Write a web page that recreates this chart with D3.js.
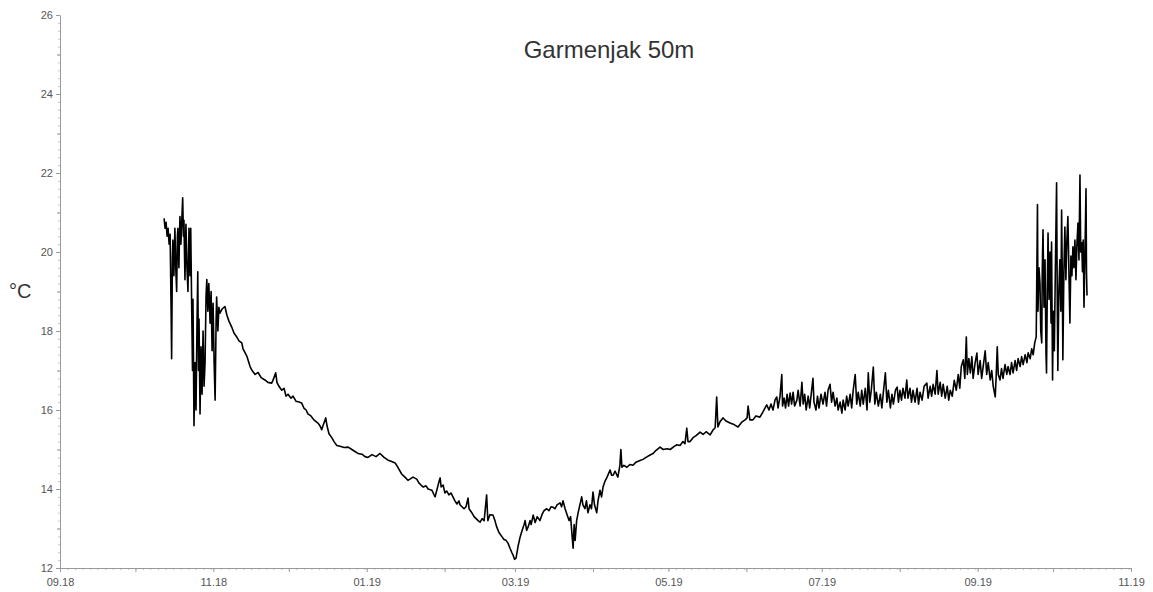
<!DOCTYPE html>
<html><head><meta charset="utf-8">
<script src="https://cdn.jsdelivr.net/npm/d3@7"></script>
<style>body{margin:0;background:#fff}svg{display:block}</style>
</head><body><svg id="c" width="1153" height="592"></svg>
<script>
const chartTitle = "Garmenjak 50m";
const yLabel = "°C";
const startDate = "2018-09-01";
const endDate = "2019-11-01";
const xMajorTicks = ["2018-09-01","2018-11-01","2019-01-01","2019-03-01","2019-05-01","2019-07-01","2019-09-01","2019-11-01"];
const xMinorTicks = ["2018-10-01","2018-12-01","2019-02-01","2019-04-01","2019-06-01","2019-08-01","2019-10-01"];
const yMajorTicks = [12,14,16,18,20,22,24,26];
const yMinorTicks = [13,15,17,19,21,23,25];

// [days since 2018-09-01, temperature °C]
const autumn2018 = [[41.4,20.85],[41.8,20.6],[42.2,20.75],[42.6,20.4],[43.0,20.6],[43.4,20.2],[43.8,20.45],[44.2,18.5],[44.4,17.3],[44.7,19.8],[44.9,20.3],[45.3,19.4],[45.7,20.6],[46.1,19.5],[46.4,19.0],[46.7,20.4],[46.9,20.6],[47.3,19.6],[47.7,20.9],[48.1,20.2],[48.5,20.9],[48.8,21.37],[49.1,20.4],[49.3,20.8],[49.7,19.3],[50.1,20.7],[50.5,19.6],[50.9,19.0],[51.3,20.6],[51.7,19.4],[52.0,20.6],[52.4,18.5],[52.7,17.0],[52.9,18.8],[53.3,15.6],[53.7,17.2],[54.1,16.0],[54.5,18.2],[54.8,19.5],[55.1,17.0],[55.3,18.3],[55.7,15.9],[56.1,17.6],[56.5,16.4],[56.9,18.0],[57.3,16.6],[57.7,17.2],[58.1,18.9],[58.4,19.3],[58.8,18.5],[59.2,19.2],[59.7,18.2],[60.1,19.0],[60.5,17.5],[60.9,18.7],[61.3,17.2],[61.7,16.25],[62.1,18.3],[62.3,18.86],[62.8,18.0],[63.2,18.6],[63.6,18.45],[64.4,18.55],[65.2,18.6],[65.6,18.62],[66.4,18.4],[67.2,18.25],[68.3,18.1]];

const winter = [[69.2,17.95],[70.3,17.85],[71.2,17.75],[72.3,17.7],[72.8,17.55],[73.6,17.45],[74.4,17.35],[75.6,17.1],[76.4,17.0],[77.6,16.9],[78.8,16.95],[80.0,16.82],[81.5,16.76],[82.7,16.7],[84.2,16.68],[84.7,16.75],[85.8,16.94],[86.3,16.7],[87.1,16.6],[88.2,16.5],[89.1,16.55],[89.9,16.35],[90.7,16.4],[91.9,16.3],[92.7,16.35],[93.9,16.22],[95.1,16.2],[96.1,16.18],[97.0,16.05],[97.9,16.0],[98.6,15.9],[99.8,15.85],[101.0,15.75],[102.6,15.67],[103.4,15.6],[104.1,15.5],[104.6,15.6],[105.7,15.8],[106.2,15.6],[107.0,15.4],[108.1,15.3],[109.0,15.2],[110.1,15.1],[111.4,15.08],[113.0,15.05],[114.6,15.06],[116.1,15.0],[117.3,14.95],[118.5,14.9],[120.1,14.88],[121.3,14.82],[122.5,14.8],[124.1,14.87],[125.7,14.82],[127.3,14.9],[128.9,14.8],[130.5,14.73],[131.7,14.7],[133.3,14.66],[134.4,14.55],[135.9,14.38],[137.2,14.3],[138.4,14.22],[139.2,14.25],[140.4,14.3],[141.9,14.25],[142.8,14.15],[143.6,14.1],[144.5,14.05],[145.6,14.08],[146.4,14.0],[147.9,13.97],[148.8,13.85],[149.2,13.8],[150.0,14.0],[150.8,14.2],[151.2,14.28],[151.6,14.05],[152.4,14.1],[153.1,13.9],[153.8,13.95],[154.7,13.85],[155.5,13.9],[156.3,13.8],[157.1,13.7],[157.9,13.62],[158.7,13.7],[159.1,13.6],[159.9,13.55],[160.7,13.5],[161.5,13.55],[162.3,13.77],[162.7,13.5],[163.8,13.4],[164.7,13.3],[165.5,13.25],[166.3,13.2],[167.1,13.16],[167.9,13.25],[168.7,13.2],[169.7,13.85],[170.1,13.3],[170.2,13.2],[171.0,13.35],[172.2,13.34],[173.0,13.2],[173.7,13.04],[174.6,12.9],[175.7,12.8],[176.6,12.72],[177.4,12.7],[178.2,12.63],[179.0,12.5],[179.8,12.38],[180.2,12.33],[180.8,12.22],[181.4,12.25]];

const spring = [[182.2,12.55],[183.0,12.78],[183.8,12.95],[184.6,13.1],[185.0,13.2],[185.6,12.95],[186.2,13.04],[187.0,13.2],[187.4,13.1],[188.2,13.34],[189.0,13.15],[189.8,13.3],[190.9,13.2],[191.7,13.35],[192.5,13.45],[193.6,13.5],[194.5,13.45],[195.3,13.55],[196.1,13.54],[196.9,13.5],[197.7,13.6],[198.9,13.65],[199.5,13.55],[200.1,13.7],[200.9,13.5],[201.7,13.35],[202.5,13.2],[203.1,13.3],[203.7,12.8],[204.1,12.5],[204.5,13.1],[204.9,12.7],[205.5,13.2],[206.1,13.4],[206.8,13.6],[207.5,13.8],[208.0,13.6],[208.8,13.5],[209.4,13.7],[210.0,13.4],[210.8,13.6],[211.4,13.5],[212.0,13.92],[212.6,13.6],[213.5,13.4],[214.0,13.7],[214.8,13.97],[215.4,13.8],[216.0,14.05],[216.8,14.2],[217.6,14.3],[218.8,14.48],[219.4,14.35],[220.0,14.35],[220.8,14.45],[221.9,14.3],[222.7,14.6],[223.1,15.0],[223.5,14.55],[224.3,14.6],[225.5,14.55],[226.7,14.62],[227.9,14.6],[229.1,14.68],[230.7,14.72],[231.9,14.75],[233.1,14.8],[234.7,14.86],[235.9,14.9],[237.1,14.98],[238.7,15.06],[239.9,15.0],[241.5,15.02],[242.7,15.0],[244.3,15.08],[245.4,15.12],[246.6,15.1],[247.8,15.2],[248.6,15.15],[249.3,15.54],[249.8,15.2],[250.6,15.2],[251.8,15.3],[253.0,15.35],[254.6,15.44],[255.8,15.38],[257.0,15.45],[258.6,15.37],[259.8,15.5],[260.6,15.55],[261.2,16.33],[261.6,15.7],[261.7,15.57],[262.5,15.7],[263.7,15.8],[264.9,15.72],[266.5,15.67],[268.1,15.63],[269.7,15.57],[271.3,15.7],[272.5,15.75],[273.3,15.8],[273.7,16.1],[274.4,15.75],[275.6,15.75],[276.8,15.85],[278.4,15.82],[279.6,15.95],[281.1,16.13],[282.0,16.0],[282.8,16.15],[283.6,16.0]];

const summer = [[284.4,16.25],[285.1,16.33],[285.6,16.05],[286.4,16.35],[287.1,16.9],[287.4,16.1],[288.0,16.3],[288.6,16.05],[289.2,16.4],[289.8,16.1],[290.4,16.43],[291.0,16.15],[291.6,16.45],[292.2,16.1],[293.1,16.25],[293.6,16.5],[294.4,16.1],[295.1,16.7],[295.6,16.15],[296.2,16.4],[296.8,16.0],[297.6,16.35],[298.2,16.05],[298.8,16.4],[299.5,16.8],[299.9,16.2],[300.7,16.0],[301.3,16.35],[301.9,16.05],[302.7,16.4],[303.5,16.15],[304.3,16.45],[304.9,16.1],[305.5,16.5],[306.3,16.65],[306.9,16.2],[307.5,16.45],[308.3,16.1],[309.0,16.3],[309.5,16.0],[310.3,16.2],[311.0,15.92],[311.5,16.25],[312.3,16.0],[312.9,16.35],[313.5,16.1],[314.3,16.4],[314.9,16.05],[315.5,16.5],[316.3,16.9],[316.9,16.15],[317.5,16.45],[318.3,16.1],[318.9,16.5],[319.5,16.15],[320.3,16.55],[321.0,16.0],[321.5,16.94],[322.1,16.2],[322.7,16.5],[323.5,17.09],[324.1,16.15],[324.7,16.45],[325.5,16.1],[326.3,16.4],[326.9,16.05],[327.5,16.45],[328.3,16.94],[328.9,16.2],[329.5,16.5],[330.3,16.05],[330.9,16.4],[331.5,16.15],[332.3,16.5],[333.0,16.58],[333.5,16.2],[334.1,16.5],[334.7,16.25],[335.3,16.55],[336.1,16.3],[336.8,16.76],[337.3,16.3],[338.1,16.55],[338.7,16.2],[339.3,16.5],[340.1,16.2],[340.9,16.55],[341.5,16.15],[342.1,16.45],[342.9,16.25],[343.7,16.6],[344.8,16.68],[345.3,16.3],[346.1,16.6],[346.7,16.35],[347.3,16.65],[348.1,16.4],[348.8,17.0],[349.3,16.4],[350.1,16.7],[350.7,16.35],[351.3,16.65],[352.1,16.3],[352.9,16.6],[353.5,16.25],[354.1,16.5],[354.9,16.35],[355.7,16.75],[356.5,16.5],[357.3,16.9],[357.9,16.55],[358.5,17.1],[359.3,17.27],[359.9,16.8],[360.5,17.85],[360.9,16.9],[361.5,17.3],[362.1,16.94],[362.7,17.35],[363.2,16.8],[364.0,17.2],[364.7,17.44],[365.2,16.9],[366.0,17.25],[366.6,16.8],[367.2,17.1],[368.0,17.5],[368.6,16.9],[369.2,17.2],[370.0,16.76],[370.6,17.0],[371.2,16.6],[372.0,16.33],[372.4,16.9],[372.8,17.6],[373.2,16.9],[373.9,16.76],[374.5,17.05],[375.1,16.8],[375.9,17.15],[376.6,16.9],[377.1,17.1],[377.9,16.9],[378.5,17.2],[379.1,16.94],[379.9,17.25],[380.5,17.0],[381.1,17.3],[381.9,17.1],[382.5,17.35],[383.1,17.15],[383.9,17.4],[384.6,17.2],[385.1,17.45],[385.9,17.3],[386.5,17.55],[387.1,17.4],[387.7,17.7],[388.3,17.85]];

const autumn2019 = [[388.8,21.2],[389.0,18.5],[389.4,19.6],[389.8,19.2],[390.1,18.0],[390.5,17.7],[390.7,19.5],[391.0,20.56],[391.4,18.6],[391.8,19.8],[392.2,17.4],[392.4,16.94],[392.7,19.0],[393.0,20.48],[393.4,18.8],[393.8,20.0],[394.2,18.2],[394.4,20.25],[394.8,16.76],[395.1,18.5],[395.5,17.5],[395.9,19.5],[396.4,21.75],[396.7,18.5],[396.9,17.0],[397.3,19.0],[397.7,19.8],[398.1,18.5],[398.4,21.06],[398.7,19.2],[398.9,17.27],[399.3,19.5],[399.7,20.63],[400.1,19.3],[400.5,20.3],[400.9,20.9],[401.3,19.5],[401.7,18.2],[402.1,19.9],[402.5,19.4],[402.9,20.13],[403.3,19.6],[403.7,20.3],[404.1,19.3],[404.5,20.2],[404.9,20.73],[405.3,19.8],[405.7,21.95],[406.0,20.0],[406.4,20.23],[406.7,19.5],[407.0,20.3],[407.3,18.6],[407.7,20.0],[408.1,21.6],[408.3,19.5],[408.5,18.9]];

const parse = d3.utcParse("%Y-%m-%d");
const t0 = parse(startDate);
const toDate = d => new Date(t0.getTime() + d * 864e5);
const series = [].concat(autumn2018, winter, spring, summer, autumn2019)
  .map(([d, v]) => ({date: toDate(d), value: v}));

const svg = d3.select("#c");
const x = d3.scaleUtc().domain([parse(startDate), parse(endDate)]).range([60, 1131]);
const y = d3.scaleLinear().domain([12, 26]).range([568, 15]);
const font = "'Liberation Sans', Arial, sans-serif";
const axisGrey = "#9a9a9a";

// Tiny ticks (dotted look)
svg.append("g").attr("transform", "translate(60,0)")
  .call(d3.axisLeft(y).tickValues(d3.range(12, 26.001, 0.2)).tickSize(2).tickFormat(""))
  .call(g => g.select(".domain").remove())
  .call(g => g.selectAll("line").attr("stroke", "#c4c4c4"));
svg.append("g").attr("transform", "translate(0,568)")
  .call(d3.axisBottom(x).tickValues(d3.utcDay.every(3).range(parse(startDate), parse(endDate))).tickSize(2).tickFormat(""))
  .call(g => g.select(".domain").remove())
  .call(g => g.selectAll("line").attr("stroke", "#c4c4c4"));

// Minor ticks
svg.append("g").attr("transform", "translate(60,0)")
  .call(d3.axisLeft(y).tickValues(yMinorTicks).tickSize(3).tickFormat(""))
  .call(g => g.select(".domain").remove())
  .call(g => g.selectAll("line").attr("stroke", axisGrey));
svg.append("g").attr("transform", "translate(0,568)")
  .call(d3.axisBottom(x).tickValues(xMinorTicks.map(parse)).tickSize(4).tickFormat(""))
  .call(g => g.select(".domain").remove())
  .call(g => g.selectAll("line").attr("stroke", axisGrey));

// Major axes
const yAxis = svg.append("g").attr("transform", "translate(60,0)")
  .call(d3.axisLeft(y).tickValues(yMajorTicks).tickSize(4).tickSizeOuter(0).tickPadding(3).tickFormat(d3.format("d")));
const xAxis = svg.append("g").attr("transform", "translate(0,568)")
  .call(d3.axisBottom(x).tickValues(xMajorTicks.map(parse)).tickSize(4).tickSizeOuter(0).tickPadding(6).tickFormat(d3.utcFormat("%m.%y")));
[yAxis, xAxis].forEach(g => {
  g.select(".domain").attr("stroke", axisGrey);
  g.selectAll(".tick line").attr("stroke", axisGrey);
  g.selectAll("text").attr("font-family", font).attr("font-size", 11).attr("fill", "#555");
});

// Data line
svg.append("path")
  .datum(series)
  .attr("fill", "none")
  .attr("stroke", "#000")
  .attr("stroke-width", 1.6)
  .attr("stroke-linejoin", "round")
  .attr("d", d3.line().x(d => x(d.date)).y(d => y(d.value)));

// Title and unit
svg.append("text").attr("x", 609).attr("y", 58).attr("text-anchor", "middle")
  .attr("font-family", font).attr("font-size", 24).attr("fill", "#333").text(chartTitle);
svg.append("text").attr("x", 9).attr("y", 298)
  .attr("font-family", font).attr("font-size", 20).attr("fill", "#333").text(yLabel);
</script></body></html>
